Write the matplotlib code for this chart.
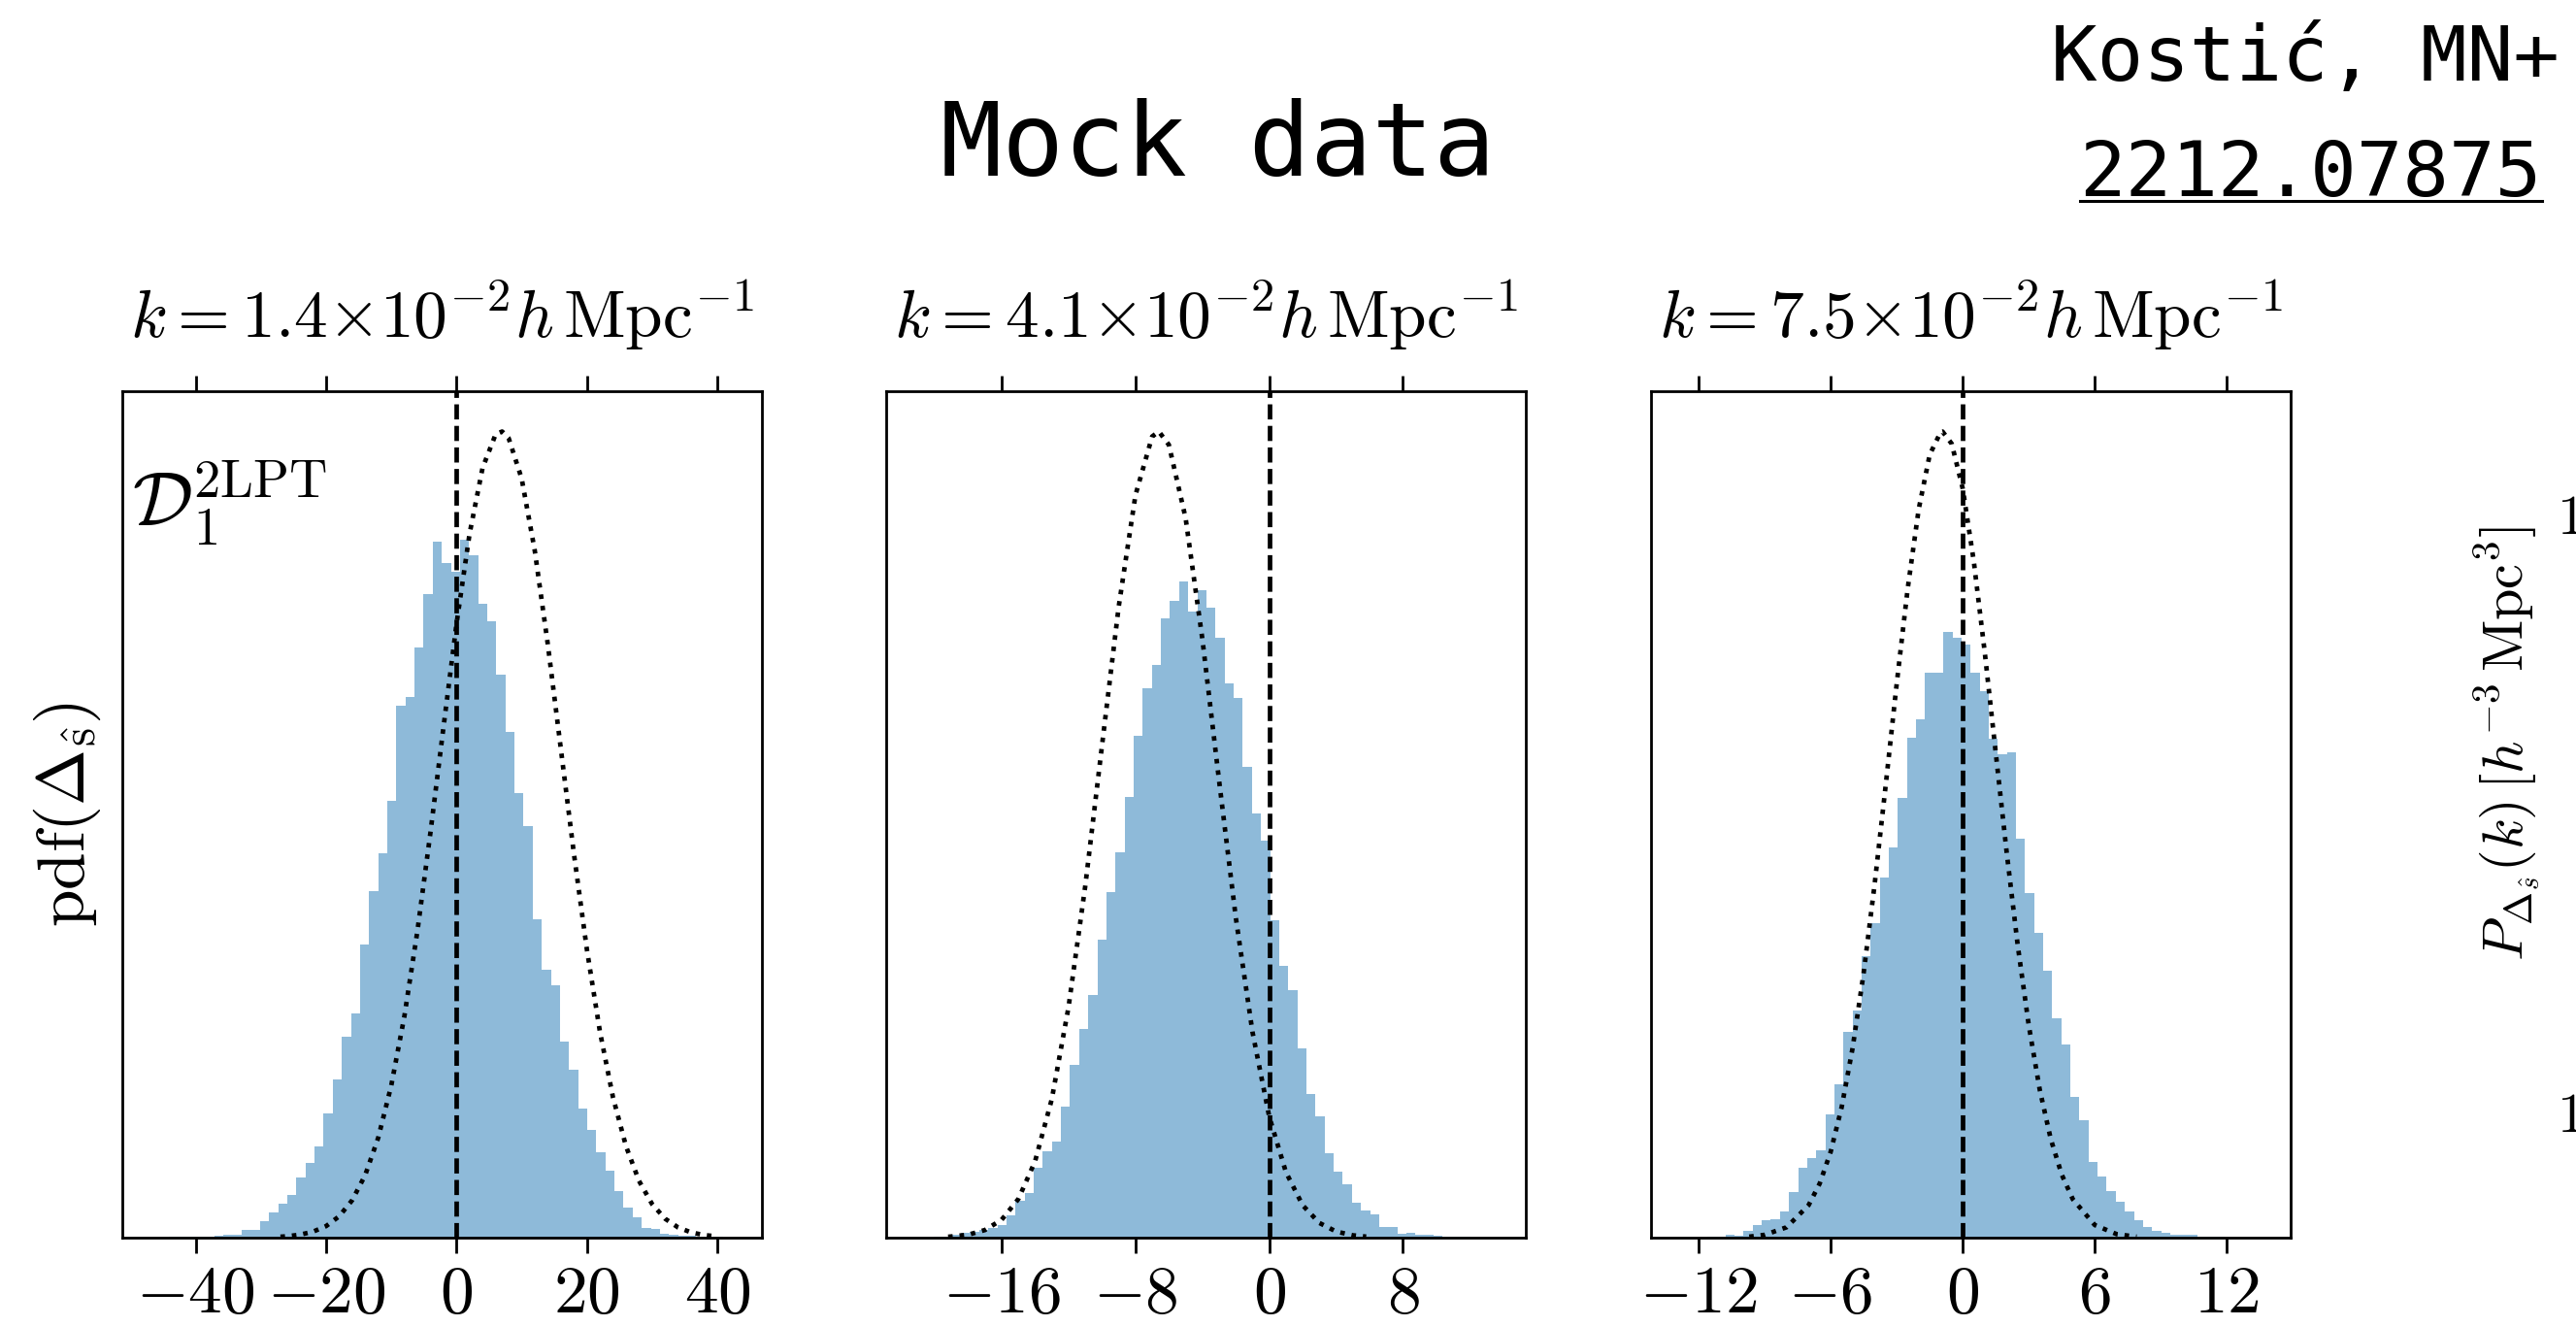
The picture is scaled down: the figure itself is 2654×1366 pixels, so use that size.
import numpy as np
import matplotlib
matplotlib.use("Agg")
import matplotlib.pyplot as plt
from matplotlib.lines import Line2D

plt.rcParams["mathtext.fontset"] = "cm"
plt.rcParams["axes.linewidth"] = 1.0

# ---------------------------------------------------------------- data
k_titles = [
    r"$k = 1.4{\times}10^{-2}h\,\mathrm{Mpc}^{-1}$",
    r"$k = 4.1{\times}10^{-2}h\,\mathrm{Mpc}^{-1}$",
    r"$k = 7.5{\times}10^{-2}h\,\mathrm{Mpc}^{-1}$",
]

# histogram ranges (64 equal bins each) and bin heights
hist_range_1 = (-46.85, 42.35)
hist_range_2 = (-21.15, 13.64)
hist_range_3 = (-12.84, 13.55)

counts_1 = [0.5, 0.5, 1, 1, 1.5, 2, 2, 3, 6, 6,
            14, 14, 30, 45, 62, 78, 110, 135, 165, 226,
            288, 365, 408, 533, 629, 698, 794, 967, 983, 1072,
            1170, 1264, 1226, 1210, 1268, 1239, 1151, 1120, 1023, 919,
            807, 748, 578, 487, 458, 356, 305, 235, 196, 155,
            122, 85, 55, 37, 17, 15, 7, 6, 4, 3,
            2, 1, 1, 0.5]
counts_2 = [0, 0.5, 1, 2, 6, 8, 10, 14, 18, 23,
            41, 68, 82, 128, 158, 174, 239, 314, 379, 441,
            543, 629, 702, 802, 914, 999, 1043, 1127, 1158, 1195,
            1139, 1178, 1147, 1091, 1008, 982, 857, 772, 722, 577,
            494, 450, 344, 262, 220, 154, 121, 98, 64, 50,
            43, 20, 20, 7, 8, 5, 5, 3, 2, 1.5,
            1, 0.5, 0.3, 0.2]
counts_3 = [0.3, 0.5, 0.5, 1, 1.5, 5, 3, 13, 23, 31,
            34, 47, 82, 127, 145, 158, 224, 279, 373, 412,
            510, 570, 654, 708, 798, 908, 940, 1025, 1025, 1099,
            1089, 1077, 1026, 992, 906, 877, 880, 724, 625, 553,
            485, 398, 351, 255, 214, 138, 111, 84, 65, 48,
            32, 19, 13, 8, 5, 5, 5, 2, 1.5, 1,
            0.5, 0.5, 0.3, 0.3]

# theory curves (dotted)
theory_x_1 = [-27, -26, -24, -22, -20, -18, -16, -14, -12, -10, -8, -6, -4, -2, 0,
              2, 4, 6, 7, 8, 10, 12, 14, 16, 18, 20, 22, 24, 26, 28, 30, 32, 34, 36, 38, 40]
theory_y_1 = [1.7, 2.5, 5.4, 10.9, 21, 38.7, 68, 113.7, 181.6, 276.6, 401.7, 556.5, 735.6, 927, 1114.9,
              1278.5, 1398.6, 1459.5, 1464.7, 1452.6, 1379, 1248.7, 1078.5, 888.5, 698.4, 523.5, 374.2,
              255.1, 166, 103, 61, 34.4, 18.5, 9.5, 4.7, 2.2]
theory_x_2 = [-19.2, -18, -17, -16, -15, -14, -13, -12, -11, -10, -9, -8, -7, -6.6, -6,
              -5, -4, -3, -2, -1, 0, 1, 2, 3, 4, 5, 5.8]
theory_y_2 = [1.6, 5.4, 13.9, 32.6, 70.4, 139.1, 252.2, 419.6, 639.9, 895.2, 1148.2, 1351, 1457.9, 1467, 1442.8,
              1309.6, 1090.1, 832.2, 582.9, 374.3, 220.5, 119.2, 59.0, 26.8, 11.2, 4.3, 1.9]
theory_x_3 = [-9.7, -9, -8, -7, -6.5, -6, -5.5, -5, -4.5, -4, -3.5, -3, -2.5, -2, -1.5, -1, -0.92,
              -0.5, 0, 0.5, 1, 1.5, 2, 2.5, 3, 3.5, 4, 4.5, 5, 6, 7, 7.9]
theory_y_3 = [1.8, 5.1, 18.9, 59.1, 98.1, 155.8, 236.9, 344.8, 480.9, 642.1, 820.9, 1005.1, 1178, 1322.1,
              1420.9, 1462.2, 1463, 1440.8, 1359.4, 1228.2, 1062.4, 880, 698, 530, 385.4, 268.3, 178.9,
              114.2, 69.8, 22.9, 6.3, 1.7]

x_ticks_1 = [-40, -20, 0, 20, 40]
x_ticks_2 = [-16, -8, 0, 8]
x_ticks_3 = [-12, -6, 0, 6, 12]

x_lims = [(-51.3, 46.8), (-22.9, 15.35), (-14.18, 14.88)]

panels = [
    (hist_range_1, counts_1, theory_x_1, theory_y_1, x_ticks_1),
    (hist_range_2, counts_2, theory_x_2, theory_y_2, x_ticks_2),
    (hist_range_3, counts_3, theory_x_3, theory_y_3, x_ticks_3),
]

# ---------------------------------------------------------------- figure
W, H = 2654, 1366
fig = plt.figure(figsize=(W / 200, H / 200), dpi=200)

ax_lefts = [125.7, 913.1, 1700.6]
ax_w = 659.0
ax_bottom = 1 - 1275.0 / H
ax_h = (1275.0 - 403.0) / H

for i, (rng, counts, tx, ty, ticks) in enumerate(panels):
    ax = fig.add_axes([ax_lefts[i] / W, ax_bottom, ax_w / W, ax_h])
    edges = np.linspace(rng[0], rng[1], len(counts) + 1)
    ax.stairs(counts, edges, fill=True, color="tab:blue", alpha=0.5, linewidth=0)
    ax.plot(tx, ty, linestyle=(0, (1.0, 1.5)), color="k", lw=1.7)
    ax.axvline(0, color="k", linestyle=(0, (3.3, 1.4)), lw=1.7)

    ax.set_xlim(*x_lims[i])
    ax.set_ylim(0, 1.05 * max(ty))
    ax.set_yticks([])
    ax.set_xticks(ticks)
    ax.set_xticklabels([r"$%d$" % t for t in ticks])
    ax.tick_params(axis="x", which="both", top=True, bottom=True, direction="out",
                   length=5.8, width=1.0, labelsize=25, pad=3)
    ax.set_title(k_titles[i], fontsize=25, pad=20)

    if i == 0:
        ax.set_ylabel(r"$\mathrm{pdf}(\Delta_{\hat{\mathrm{s}}})$", fontsize=25, labelpad=7)
        ax.text(0.015, 0.84, r"$\mathcal{D}_1^{\mathrm{2LPT}}$", transform=ax.transAxes,
                fontsize=28, va="baseline", ha="left")

# headline and reference
fig.text(0.4729, 0.8675, "Mock data", family="DejaVu Sans Mono", fontsize=38,
         ha="center", va="baseline")
fig.text(0.895, 0.939, "Kostić, MN+", family="DejaVu Sans Mono", fontsize=28.5,
         ha="center", va="baseline")
ref = fig.text(0.897, 0.852, "2212.07875", family="DejaVu Sans Mono", fontsize=28.5,
               ha="center", va="baseline")

# neighbouring power-spectrum panel (clipped at the right edge)
fig.text(0.9735, 0.4393, r"$P_{\Delta_{\hat{s}}}(k)\,[h^{-3}\,\mathrm{Mpc}^3]$",
         rotation=90, ha="center", va="center", fontsize=21)
fig.text(0.9925, 0.5966, r"$10^{4}$", fontsize=21, ha="left", va="baseline")
fig.text(0.9925, 0.1464, r"$10^{3}$", fontsize=21, ha="left", va="baseline")

# underline the reference number
fig.canvas.draw()
bb = ref.get_window_extent()
y_line = 1 - 207.0 / H
fig.add_artist(Line2D([bb.x0 / W, bb.x1 / W], [y_line, y_line],
                      transform=fig.transFigure, color="k", lw=1.1))

fig.savefig("out.png", dpi=200)
